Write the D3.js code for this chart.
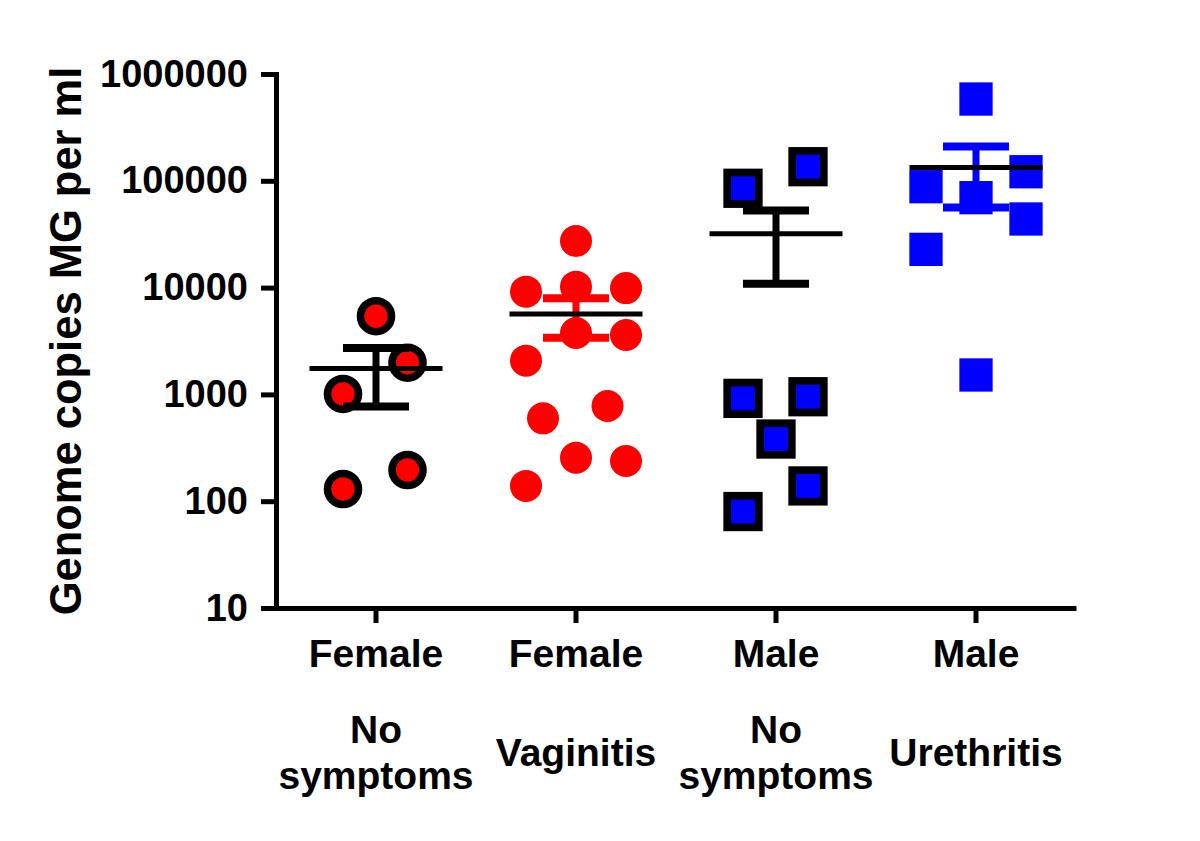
<!DOCTYPE html>
<html lang="en">
<head>
    <meta charset="UTF-8">
    <title>Genome copies MG per ml</title>
    <script src="https://cdnjs.cloudflare.com/ajax/libs/d3/7.8.5/d3.min.js"></script>
    <style>
        * { margin: 0; padding: 0; box-sizing: border-box; }
        body { background: #fff; font-family: 'Liberation Sans', Arial, sans-serif; }
        #chart { width: 1200px; height: 841px; }
        text { font-weight: bold; fill: #000; }
    </style>
</head>
<body>
    <div id="chart"></div>

    <script>
        // Category labels (two rows under the x axis)
        const sexLabels = ['Female', 'Female', 'Male', 'Male'];
        const conditionLabels = [['No', 'symptoms'], ['Vaginitis'], ['No', 'symptoms'], ['Urethritis']];

        // Values (genome copies per ml)
        const femaleNoSymptoms = [5400, 1980, 1010, 196, 130];
        const femaleVaginitis = [27300, 9160, 10200, 9900, 3760, 3600, 2070, 597, 778, 255, 238, 139];
        const maleNoSymptoms = [85100, 135500, 918, 951, 382, 139, 80];
        const maleUrethritis = [583000, 121600, 88100, 69500, 43900, 22800, 1520];

        // Horizontal scatter lane of each point (-1 .. 1)
        const femaleNoSymptomsLane = [0, 0.63, -0.66, 0.63, -0.66];
        const femaleVaginitisLane = [0, -1, 0, 1, 0, 1, -1, -0.66, 0.63, 0, 1, -1];
        const maleNoSymptomsLane = [-0.66, 0.64, -0.66, 0.64, 0, 0.64, -0.66];
        const maleUrethritisLane = [0, 1, -1, 0, 1, -1, 0];

        const yTicks = [10, 100, 1000, 10000, 100000, 1000000];

        const series = [
            { values: femaleNoSymptoms, lanes: femaleNoSymptomsLane, shape: 'circle', fill: '#ff0000', outline: true, bar: '#000' },
            { values: femaleVaginitis, lanes: femaleVaginitisLane, shape: 'circle', fill: '#ff0000', outline: false, bar: '#ff0000' },
            { values: maleNoSymptoms, lanes: maleNoSymptomsLane, shape: 'square', fill: '#0000ff', outline: true, bar: '#000' },
            { values: maleUrethritis, lanes: maleUrethritisLane, shape: 'square', fill: '#0000ff', outline: false, bar: '#0000ff' }
        ];

        const width = 1200, height = 841;
        const svg = d3.select('#chart').append('svg')
            .attr('width', width)
            .attr('height', height);

        const x = d3.scaleBand()
            .domain(d3.range(series.length))
            .range([276, 1076]);

        const y = d3.scaleLog()
            .domain([10, 1000000])
            .range([608, 74]);

        const lane = d3.scaleLinear().domain([-1, 1]).range([-50, 50]);
        const cx = (i, l) => x(i) + x.bandwidth() / 2 + lane(l);

        // Points
        series.forEach((s, i) => {
            const g = svg.append('g').attr('class', 'group-' + i);
            if (s.shape === 'circle') {
                g.selectAll('circle')
                    .data(s.values)
                    .join('circle')
                    .attr('cx', (d, j) => cx(i, s.lanes[j]))
                    .attr('cy', d => y(d))
                    .attr('r', s.outline ? 15.5 : 16)
                    .attr('fill', s.fill)
                    .attr('stroke', s.outline ? '#000' : 'none')
                    .attr('stroke-width', 7.6);
            } else {
                const side = s.outline ? 31.6 : 33.3;
                g.selectAll('rect')
                    .data(s.values)
                    .join('rect')
                    .attr('x', (d, j) => cx(i, s.lanes[j]) - side / 2)
                    .attr('y', d => y(d) - side / 2)
                    .attr('width', side)
                    .attr('height', side)
                    .attr('fill', s.fill)
                    .attr('stroke', s.outline ? '#000' : 'none')
                    .attr('stroke-width', 7.7);
            }
        });

        // Mean and SEM
        series.forEach((s, i) => {
            const mean = d3.mean(s.values);
            const sem = d3.deviation(s.values) / Math.sqrt(s.values.length);
            const c = cx(i, 0);
            const g = svg.append('g').attr('class', 'stats-' + i);

            g.append('line')
                .attr('x1', c).attr('x2', c)
                .attr('y1', y(mean + sem)).attr('y2', y(mean - sem))
                .attr('stroke', s.bar).attr('stroke-width', 7);

            [mean + sem, mean - sem].forEach(v => {
                g.append('line')
                    .attr('x1', c - 33).attr('x2', c + 33)
                    .attr('y1', y(v)).attr('y2', y(v))
                    .attr('stroke', s.bar).attr('stroke-width', 8);
            });

            g.append('line')
                .attr('x1', c - 66.5).attr('x2', c + 66.5)
                .attr('y1', y(mean)).attr('y2', y(mean))
                .attr('stroke', '#000').attr('stroke-width', 5);
        });

        // Y axis
        const yAxis = svg.append('g')
            .attr('transform', 'translate(276,0)')
            .call(d3.axisLeft(y)
                .tickValues(yTicks)
                .tickFormat(d3.format('d'))
                .tickSize(15)
                .tickSizeOuter(0)
                .tickPadding(13));

        yAxis.selectAll('path, line').attr('stroke', '#000').attr('stroke-width', 5);
        yAxis.select('.domain').attr('stroke-linecap', 'square');
        yAxis.selectAll('text')
            .attr('font-family', "'Liberation Sans', Arial, sans-serif")
            .attr('font-size', 38)
            .attr('font-weight', 'bold')
            .attr('fill', '#000');

        // X axis
        const xAxis = svg.append('g')
            .attr('transform', 'translate(0,608)')
            .call(d3.axisBottom(x)
                .tickSize(15)
                .tickSizeOuter(0)
                .tickFormat(''));

        xAxis.selectAll('path, line').attr('stroke', '#000').attr('stroke-width', 5);

        const labels = svg.append('g')
            .attr('font-size', 39)
            .attr('text-anchor', 'middle');

        sexLabels.forEach((t, i) => {
            const c = x(i) + x.bandwidth() / 2;
            labels.append('text')
                .attr('x', c).attr('y', 667)
                .text(t);

            const rows = conditionLabels[i];
            rows.forEach((r, k) => {
                labels.append('text')
                    .attr('x', c)
                    .attr('y', 766 + (k - (rows.length - 1) / 2) * 46)
                    .text(r);
            });
        });

        // Y axis title
        svg.append('text')
            .attr('transform', 'translate(81,341) rotate(-90)')
            .attr('text-anchor', 'middle')
            .attr('font-size', 43.5)
            .text('Genome copies MG per ml');
    </script>
</body>
</html>
